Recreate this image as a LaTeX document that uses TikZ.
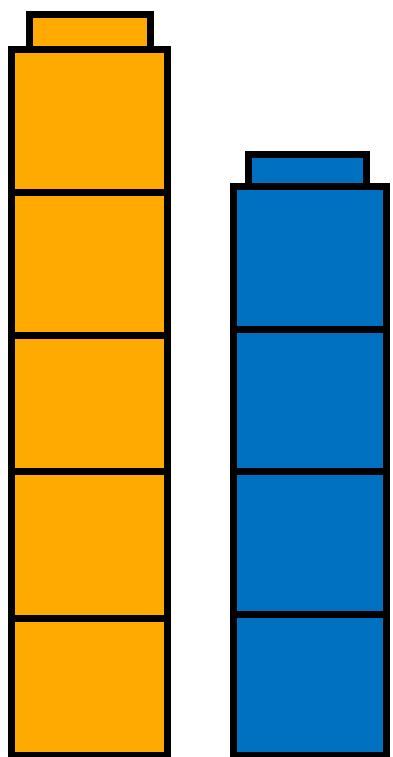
\documentclass[tikz,border=0pt]{standalone}
\usepackage{tikz}
\definecolor{cubeorange}{RGB}{255,170,0}
\definecolor{cubeblue}{RGB}{0,112,192}

\begin{document}
\begin{tikzpicture}[x=1pt, y=-1pt, cube/.style={draw=black, line width=7pt}]
    \useasboundingbox (0,0) rectangle (393,757);
    % orange tower: cap and five cubes
    \draw[cube, fill=cubeorange] (29.5,14.5) rectangle (150.5,49.5);
    \foreach \ytop/\ybot in {49.5/192, 192/335.5, 335.5/471.5, 471.5/618, 618/755}
        \draw[cube, fill=cubeorange] (11,\ytop) rectangle (167,\ybot);
    % blue tower: cap and four cubes
    \draw[cube, fill=cubeblue] (248,154.5) rectangle (366.5,186.5);
    \foreach \ytop/\ybot in {186.5/329, 329/471.5, 471.5/614, 614/755}
        \draw[cube, fill=cubeblue] (233,\ytop) rectangle (386,\ybot);
\end{tikzpicture}
\end{document}
